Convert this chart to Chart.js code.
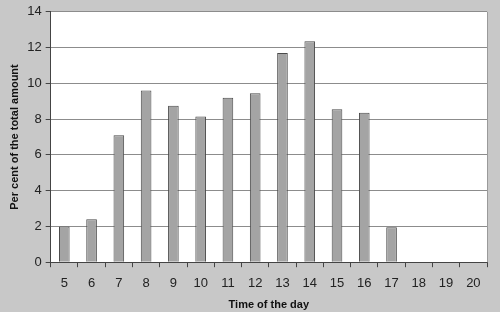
<!DOCTYPE html>
<html lang="en">
<head>
    <meta charset="UTF-8">
    <title>Per cent of the total amount by time of the day</title>
    <script src="https://cdn.jsdelivr.net/npm/chart.js"></script>
    <style>
        html, body { margin: 0; padding: 0; background: #c8c8c8; }
        #wrap { width: 500px; height: 312px; position: relative; }
    </style>
</head>
<body>
    <div id="wrap"><canvas id="chart"></canvas></div>
    <script>
        const hours = ['5', '6', '7', '8', '9', '10', '11', '12', '13', '14', '15', '16', '17', '18', '19', '20'];
        const percent = [2.0, 2.4, 7.1, 9.6, 8.75, 8.15, 9.2, 9.45, 11.7, 12.35, 8.55, 8.35, 1.95, 0, 0, 0];

        const fontFamily = "'Liberation Sans', Arial, sans-serif";

        // white plot area + light right border
        const plotBg = {
            id: 'plotBg',
            beforeDraw(chart) {
                const { ctx, chartArea: a } = chart;
                ctx.save();
                ctx.fillStyle = '#ffffff';
                ctx.fillRect(a.left, a.top, a.right - a.left, a.bottom - a.top);
                ctx.restore();
            },
            afterDraw(chart) {
                const { ctx, chartArea: a } = chart;
                ctx.save();
                ctx.strokeStyle = '#9a9a9a';
                ctx.lineWidth = 1;
                ctx.beginPath();
                ctx.moveTo(a.right + 0.5, a.top);
                ctx.lineTo(a.right + 0.5, a.bottom);
                ctx.stroke();
                ctx.restore();
            }
        };

        new Chart(document.getElementById('chart'), {
            type: 'bar',
            data: {
                labels: hours,
                datasets: [{
                    data: percent,
                    backgroundColor: '#a4a4a4',
                    borderColor: '#4a4a4a',
                    borderWidth: 1,
                    barPercentage: 0.5,
                    categoryPercentage: 0.78
                }]
            },
            options: {
                responsive: true,
                maintainAspectRatio: false,
                animation: false,
                layout: { padding: { top: 7, right: 13, left: 8, bottom: 0 } },
                plugins: {
                    legend: { display: false },
                    tooltip: { enabled: false }
                },
                scales: {
                    x: {
                        grid: {
                            offset: true,
                            drawOnChartArea: false,
                            drawTicks: true,
                            tickLength: 5,
                            color: '#444'
                        },
                        border: { color: '#444', width: 1 },
                        ticks: {
                            color: '#222',
                            font: { family: fontFamily, size: 13 },
                            padding: 8
                        },
                        title: {
                            display: true,
                            text: 'Time of the day',
                            color: '#111',
                            font: { family: fontFamily, size: 11, weight: 'bold' },
                            padding: { top: 0, bottom: 0 }
                        }
                    },
                    y: {
                        min: 0,
                        max: 14,
                        ticks: {
                            stepSize: 2,
                            color: '#222',
                            font: { family: fontFamily, size: 13 },
                            padding: 4
                        },
                        grid: {
                            color: '#8c8c8c',
                            tickLength: 5,
                            tickColor: '#444'
                        },
                        border: { color: '#444', width: 1 },
                        title: {
                            display: true,
                            text: 'Per cent of the total amount',
                            color: '#111',
                            font: { family: fontFamily, size: 11, weight: 'bold' },
                            padding: { top: 0, bottom: 2 }
                        }
                    }
                }
            },
            plugins: [plotBg]
        });
    </script>
</body>
</html>
